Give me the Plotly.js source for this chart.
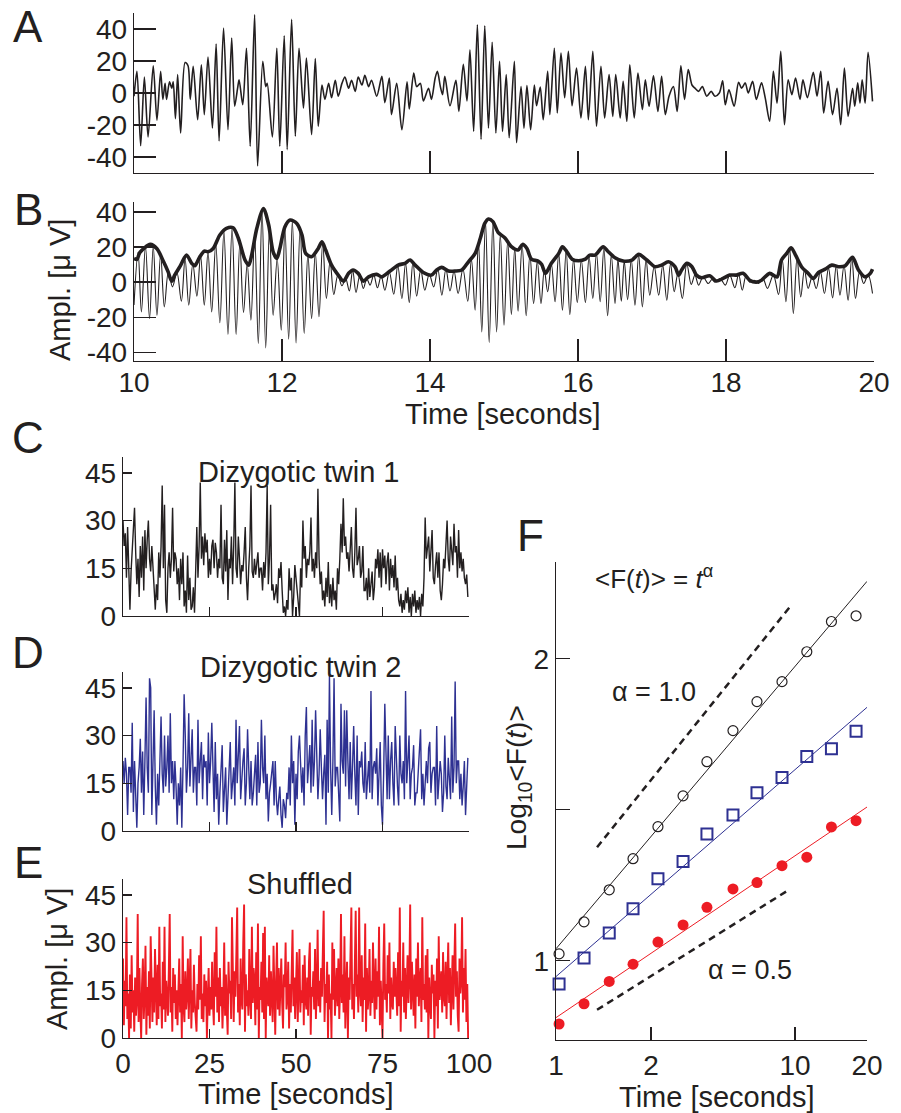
<!DOCTYPE html>
<html><head><meta charset="utf-8">
<script src="https://cdn.plot.ly/plotly-3.0.1.min.js"></script>
<style>html,body{margin:0;padding:0;background:#fff}#chart{width:901px;height:1113px}</style>
</head><body><div id="chart"></div>
<script>
// ---------- Panel A: raw EEG (extrema) ----------
const aT=[10.00,10.04,10.09,10.14,10.19,10.26,10.31,10.36,10.39,10.42,10.44,10.48,10.51,10.53,10.56,10.59,10.63,10.69,10.73,10.76,10.80,10.86,10.91,10.95,11.00,11.06,11.11,11.15,11.21,11.27,11.32,11.36,11.40,11.42,11.47,11.52,11.57,11.63,11.67,11.74,11.78,11.80,11.87,11.93,11.97,12.03,12.07,12.13,12.18,12.23,12.29,12.33,12.40,12.45,12.49,12.54,12.58,12.63,12.67,12.72,12.76,12.81,12.85,12.90,12.94,12.99,13.03,13.08,13.12,13.17,13.21,
13.28,13.35,13.39,13.45,13.48,13.55,13.62,13.69,13.72,13.78,13.82,13.87,13.91,13.98,14.02,14.07,14.10,14.14,14.17,14.20,14.27,14.35,14.39,14.45,14.50,14.54,14.59,14.64,14.69,14.74,14.79,14.84,14.89,14.94,14.98,15.03,15.07,15.14,15.17,15.23,15.27,15.31,15.36,15.41,15.44,15.49,15.53,15.59,15.62,15.68,15.72,15.77,15.82,15.87,15.92,15.98,16.04,16.10,16.14,16.20,16.25,16.31,16.36,16.42,16.47,16.51,16.57,16.61,16.66,
16.70,16.76,16.81,16.87,16.91,16.96,17.02,17.08,17.13,17.18,17.23,17.29,17.34,17.39,17.44,17.49,17.54,17.58,17.63,17.68,17.74,17.80,17.85,17.91,17.955,17.99,18.04,18.11,18.17,18.21,18.26,18.30,18.36,18.41,18.48,18.53,18.59,18.64,18.69,18.74,18.79,18.84,18.89,18.94,19.00,19.04,19.10,19.18,19.23,19.28,19.32,19.38,19.44,19.50,19.55,19.60,19.65,19.71,19.74,19.78,19.81,19.84,19.88,19.92,19.98];
const aV=[-2,13.5,-33,10,-27.5,17,-17,13.5,-4,6,-4,7,3,7,-16,11.5,-25,19,17,-4,16.7,-16.7,17.7,-13.5,22.5,-21.9,30.6,-30,40.6,-22.9,34.4,-8.3,3,8.3,-7.3,28,-33.3,49,-45.6,19.8,4,6,-27.5,28,-33.3,35.8,-35.4,46,-27,28,-9.4,21.9,-26,21.5,-20.8,5,-4,6,-3,8,-2,6,10,3,8,1,10,5,11,4,8,
-2,10.4,-6,9.4,-13.5,6,-23,7,-10,12.5,4,6,-5,3,-4,9.4,13.5,4,-1,10.4,-8,8,-11.5,18,-5,27,-24,42.7,-29,42,-22,31.7,-25,19.8,-24,11.5,-28,19.8,-31,4,-22,4.6,-23,5,-8,3.75,-16.7,13.5,-13.5,28,-12.5,25,-3,26,-8,15.6,-15.6,16.7,-16.7,26,-20.8,16.7,-15.6,11.5,-14.6,11.5,-15.6,7.3,-17.7,
17.7,-15.6,12.5,-10.4,8.3,-8.3,10.8,-11.5,10.4,-13.5,-2,4,-11.5,17,-4,14.6,5,3,1,4,-2,1,-2,0,7.7,-7.3,2,-8.3,6.7,3,6.3,0,7.3,-4,6.3,-3,-17.7,13.5,-6.3,26,-19.8,8.3,-1,9.4,-4,8.3,-3,12.9,-2,13.5,-12.5,7.3,-13.5,3,-19.8,15.6,-14.6,3,-8.3,6.3,-6.3,8.3,-6.3,25.4,-5.2];

// ---------- Panel B: alpha-band signal (extrema) and its envelope ----------
const bT=[10.00,10.055,10.10,10.155,10.21,10.26,10.31,10.36,10.41,10.465,10.52,10.58,10.64,10.69,10.74,10.795,10.85,10.90,10.95,11.00,11.05,11.105,11.16,11.215,11.27,11.325,11.38,11.43,11.48,11.53,11.58,11.63,11.68,11.73,11.78,11.83,11.88,11.935,11.99,12.04,12.09,12.14,12.19,12.245,12.30,12.35,12.40,12.45,12.50,12.55,12.60,12.65,12.70,12.755,12.81,12.86,12.91,12.955,13.00,13.05,13.10,13.145,13.19,13.24,13.29,13.34,13.39,13.45,13.51,13.565,13.62,13.67,13.72,13.77,13.82,13.875,13.93,13.99,14.05,14.105,14.16,14.215,14.27,14.325,14.38,14.445,14.51,14.56,14.61,14.655,14.70,14.75,14.80,14.85,14.90,14.95,15.00,15.05,15.10,15.145,15.19,15.245,15.30,15.35,15.40,15.45,15.50,15.545,15.59,15.64,15.69,15.74,15.79,15.84,15.89,15.94,15.99,16.045,16.10,16.15,16.20,16.25,16.30,16.35,16.40,16.45,16.50,16.54,16.585,16.625,16.67,16.72,16.77,16.82,16.87,16.92,16.97,17.03,17.09,17.145,17.20,17.25,17.30,17.35,17.41,17.47,17.53,17.58,17.63,17.69,17.76,17.81,17.85,17.92,17.99,18.05,18.12,18.17,18.22,18.27,18.32,18.38,18.44,18.50,18.56,18.64,18.71,18.76,18.81,18.86,18.91,18.96,19.01,19.06,19.11,19.165,19.22,19.275,19.33,19.385,19.44,19.49,19.54,19.595,19.65,19.70,19.75,19.805,19.86,19.92,19.98];
const bV=[-13,17,-17,20.5,-20.8,20.5,-18.9,16,-14.1,6,-2.7,5.5,-10.9,13.5,-13.1,10.5,-8,15,-13.1,17.3,-17,22,-23.2,29,-29.9,31,-29.9,22,-17.3,10.5,-21.7,27,-35,41,-37.5,30,-18.9,13.5,-27.4,31,-32.6,35,-34.7,31,-29.3,16,-20.8,17,-19.8,22.5,-9.3,12,-7,4,-2.1,2,-5,6.8,-5.9,3.5,-3.6,2,-1.7,4,-3.2,3.5,-4.6,5.8,-6.9,9.5,-9.3,10.8,-11.6,11.5,-8,7,-4.6,4.5,-2.7,7.5,-7.4,7.5,-5.1,6.3,-6.5,7.5,-10.9,13,-16,23,-28.4,34.5,-34.5,34.5,-28.4,27,-24.6,23.5,-18.5,19.5,-16.6,21,-19.2,16,-12.2,12,-12.2,7,-5.5,10.5,-11.2,16.4,-16,18,-18.5,13,-11.6,12.5,-11.6,14.5,-9.3,16.5,-11.2,19.5,-19.2,15.5,-12.2,12.8,-10.9,12,-10,12.8,-13.1,15.5,-14.1,12.8,-7.4,9,-7.4,9.7,-10.3,10.5,-5.5,5,-9.3,10.5,-1.3,4,-1.7,3,-0.8,1.5,0,2,-1.7,4,-3.2,4.5,-4.6,3.5,0,1,-0.8,2,-3.6,4,-7,13,-11.2,19.5,-17.9,14,-8.4,7,-3.6,3,-3.6,6,-6.5,8,-9,9.5,-7.4,9.5,-10.3,14,-9.3,6,-0.8,4,-6.5];
const eT=[10.00,10.04,10.08,10.22,10.31,10.40,10.46,10.51,10.55,10.62,10.71,10.78,10.82,10.89,10.95,11.00,11.07,11.16,11.25,11.34,11.41,11.50,11.55,11.59,11.66,11.75,11.82,11.88,11.93,11.97,12.04,12.11,12.20,12.27,12.32,12.40,12.49,12.54,12.59,12.67,12.76,12.83,12.90,12.96,13.03,13.10,13.17,
13.28,13.35,13.46,13.57,13.66,13.73,13.80,13.91,14.02,14.09,14.16,14.25,14.34,14.43,14.52,14.61,14.68,14.74,14.79,14.85,14.92,15.01,15.10,15.19,15.25,15.31,15.37,15.46,15.51,15.56,15.64,15.74,15.79,15.85,15.92,16.01,16.10,16.16,16.23,16.34,16.41,16.50,16.61,
16.73,16.82,16.93,17.04,17.13,17.22,17.31,17.36,17.40,17.47,17.54,17.60,17.67,17.78,17.87,17.96,18.05,18.14,18.23,18.32,18.41,18.48,18.59,18.69,18.75,18.82,18.88,18.94,19.02,19.11,19.18,19.25,19.34,19.43,19.52,19.61,19.71,19.79,19.88,19.95,19.98];
const eV=[13.5,13,17,21.5,19,11.6,6,0.5,4,8.8,15.4,10.7,9.3,14.5,17.7,17.3,19.2,26.9,30.7,31,25,12.6,9.7,15.4,30.7,42,32.6,17.3,13.5,19,31.6,35.4,33.5,26.9,16.4,14.5,19.2,23,18.3,9.7,4,0.5,5,6.9,5,0.5,3,
4.4,3,6.3,9.7,10.7,12.6,9.7,5.5,4,6.9,8.4,6.3,6.3,6.9,11.6,16.4,25,33.5,36,34.5,28.4,25.3,20.2,18.3,21.5,19.2,13.1,12,10,5,10.7,16.4,20.2,17.3,13.1,12.2,13.1,15.4,15.4,20.2,17.3,13.9,12,
12.6,15.8,12.6,8.8,9.7,11.6,8.8,4,6.9,10.7,8.8,4,2.5,3.6,0.6,2.1,4,4,5,1.1,0,1.1,5,3,12.6,16.4,19.6,15.4,8.8,5,2.1,5.5,7.4,9.7,8.8,9.3,14.1,6.9,3,5,7.4];

// ---------- Panels C, D, E: amplitude envelopes over 100 s ----------
const twin1=[30,22,26,12,28,18,2,14,22,30,34,20,10,18,6,22,12,25,8,27,15,24,30,18,14,22,16,8,2,10,
5,20,12,22,41,15,35,5,1,15,20,12,18,34,14,20,18,10,15,5,18,10,20,3,8,1,19,5,12,2,
3,9,1,14,28,12,22,42,18,25,16,26,20,24,12,18,13,22,24,15,23,20,12,18,15,35,12,10,24,14,
27,5,18,15,25,10,22,42,15,12,25,18,10,16,14,20,28,12,5,15,22,41,14,12,18,13,16,20,12,15,
15,8,17,12,20,41,10,18,35,8,10,5,7,10,4,15,12,17,8,1,3,0,5,2,15,8,12,0,6,16,
12,8,2,0,15,9,30,18,22,12,18,16,20,31,14,18,12,20,15,40,18,10,14,5,8,3,12,6,17,4,
10,3,12,5,8,2,15,10,18,29,20,37,22,25,18,20,14,24,28,15,12,20,34,16,18,22,12,14,22,8,
8,12,5,15,6,10,14,5,9,18,15,21,12,20,9,21,15,19,10,17,20,8,18,12,16,9,19,8,12,5,
3,7,1,5,2,8,4,9,1,6,0,7,3,8,1,5,2,6,0,7,3,12,31,18,22,25,14,20,27,12,
10,16,20,12,20,8,5,10,18,15,22,30,18,14,25,20,16,29,20,22,12,27,15,20,14,18,12,10,13,6];
const twin2=[22,15,23,18,5,20,20,12,34,6,22,14,1,15,20,29,12,25,5,22,42,20,12,48,45,5,20,38,14,2,
18,8,22,36,18,12,30,14,20,30,12,37,15,22,10,22,14,2,15,8,20,1,20,43,30,12,20,37,14,25,
32,12,20,20,8,35,15,22,28,10,24,20,22,8,31,15,22,34,15,6,28,10,18,2,12,20,27,6,14,20,
2,12,18,28,10,15,20,8,35,15,24,33,10,18,22,26,8,15,32,20,10,22,8,12,18,24,8,28,12,15,
35,20,15,30,10,18,3,12,15,18,22,8,22,10,5,10,14,5,1,10,8,4,12,10,20,8,30,15,22,2,
18,10,25,30,18,12,20,8,30,39,15,22,27,12,35,14,22,38,25,10,18,32,20,10,18,24,2,35,12,49,
20,5,22,48,14,20,20,10,3,40,22,18,38,14,38,22,10,28,10,20,33,18,8,30,5,22,20,25,15,12,
28,10,15,22,12,44,10,20,22,18,26,8,18,28,8,2,18,40,25,10,30,10,22,28,15,8,33,22,14,8,
30,18,15,22,10,44,15,22,30,10,18,20,27,8,12,12,20,25,32,10,18,8,14,22,15,26,28,12,18,20,
20,8,33,10,16,22,18,6,12,30,14,10,23,16,10,36,12,20,47,15,22,22,10,18,8,14,22,5,18,23];
const shuffled=[25,4,18,10,38,6,14,0,20,3,26,8,15,2,19,7,12,39,5,22,9,0,17,25,6,14,29,1,16,7,21,3,32,11,5,19,8,28,12,4,
23,6,35,10,14,3,24,9,35,5,18,12,7,22,39,8,16,2,22,11,20,6,15,4,13,25,8,17,0,32,10,5,21,9,14,25,6,18,28,3,
15,8,23,11,4,2,17,9,26,12,32,6,14,5,20,10,18,0,12,22,7,16,9,24,11,4,27,13,35,8,19,5,22,10,16,3,13,30,7,20,
9,1,24,14,18,6,38,11,5,21,13,26,41,8,17,4,25,12,9,30,42,2,20,10,15,7,28,13,6,35,11,22,18,4,27,9,36,0,16,12,
24,8,33,6,35,0,19,14,10,26,7,21,15,5,29,12,1,18,30,9,22,7,14,25,11,3,20,16,30,9,13,24,3,17,8,22,34,10,19,6,
14,27,5,20,28,8,15,11,23,4,26,12,9,19,7,24,30,1,16,13,21,9,28,6,15,34,10,18,8,22,13,27,40,5,17,11,24,0,20,9,
14,0,30,12,28,7,18,22,10,25,6,16,39,11,20,8,32,3,15,24,0,19,12,27,41,9,17,6,23,40,13,20,8,41,15,10,26,5,19,12,
36,2,22,9,14,28,7,18,11,30,16,6,25,9,21,13,35,4,18,10,0,23,36,12,17,8,26,14,30,6,19,11,9,24,13,22,15,7,27,10,
41,2,18,13,30,8,22,6,16,26,11,19,42,9,24,14,7,20,3,25,13,30,10,18,22,5,38,12,17,9,26,8,28,0,19,11,6,23,14,20,
0,18,10,25,3,32,12,16,21,8,27,13,10,24,6,19,30,11,22,4,17,26,9,20,36,13,21,7,2,25,14,18,38,8,22,12,28,5,17,0];

// ---------- Panel F: fluctuation function (log10 <F(t)>) ----------
const fTime=[1.03,1.31,1.67,2.10,2.67,3.40,4.28,5.50,6.93,8.82,11.2,14.2,18.0];
const fTwin1=[1.023,1.129,1.235,1.338,1.444,1.546,1.659,1.762,1.858,1.924,2.023,2.123,2.142];
const fTwin2=[0.923,1.009,1.092,1.172,1.272,1.329,1.420,1.483,1.556,1.607,1.676,1.702,1.760];
const fShuf=[0.791,0.858,0.932,0.989,1.062,1.119,1.177,1.238,1.259,1.315,1.343,1.443,1.464];
const fitTime=[1,20];
const fitTwin1=[1.04,2.256];
const fitTwin2=[0.948,1.839];
const fitShuf=[0.812,1.509];
const refTime1=[1.485,9.53], refAlpha1=[1.376,2.172];
const refTime2=[1.485,9.17], refAlpha2=[0.838,1.229];

const xTicksAB=[10,12,14,16,18,20];
const yTicksA=[-40,-20,0,20,40];
const yTickTextA=['-40','-20','0','20','40'];
const yTicksCDE=[0,15,30,45];
const xTicksCDE=[0,25,50,75,100];

// ---------- build ----------
const W=901,H=1113;
const FONT='"Liberation Sans", Arial, Helvetica, sans-serif';
const INK='#231f20', BLUE='#2e3192', RED='#ed1c24';
const dxp=(a,b)=>[a/W,b/W];
const dyp=(top,bot)=>[1-bot/H,1-top/H];
const grid=(n,dt)=>Array.from({length:n},(_,i)=>i*dt);

const base={showgrid:false,zeroline:false,showline:true,linecolor:INK,linewidth:1.3,
  ticks:'inside',tickcolor:INK,tickwidth:1.3,tickfont:{family:FONT,size:28,color:INK},fixedrange:true};

const data=[
 {x:aT,y:aV,xaxis:'x',yaxis:'y',mode:'lines',line:{color:INK,width:1.6,shape:'spline',smoothing:0.8}},
 {x:bT,y:bV,xaxis:'x2',yaxis:'y2',mode:'lines',line:{color:INK,width:1.1,shape:'spline',smoothing:1}},
 {x:eT,y:eV,xaxis:'x2',yaxis:'y2',mode:'lines',line:{color:INK,width:3.6,shape:'spline',smoothing:0.8}},
 {x:grid(twin1.length,1/3),y:twin1,xaxis:'x3',yaxis:'y3',mode:'lines',line:{color:INK,width:1.4}},
 {x:grid(twin2.length,1/3),y:twin2,xaxis:'x4',yaxis:'y4',mode:'lines',line:{color:BLUE,width:1.4}},
 {x:grid(shuffled.length,0.25),y:shuffled,xaxis:'x5',yaxis:'y5',mode:'lines',line:{color:RED,width:1.9}},
 {x:refTime1,y:refAlpha1,xaxis:'x6',yaxis:'y6',mode:'lines',line:{color:INK,width:2.5,dash:'7px,5px'}},
 {x:refTime2,y:refAlpha2,xaxis:'x6',yaxis:'y6',mode:'lines',line:{color:INK,width:2.5,dash:'7px,5px'}},
 {x:fitTime,y:fitTwin1,xaxis:'x6',yaxis:'y6',mode:'lines',line:{color:INK,width:1}},
 {x:fitTime,y:fitTwin2,xaxis:'x6',yaxis:'y6',mode:'lines',line:{color:BLUE,width:1}},
 {x:fitTime,y:fitShuf,xaxis:'x6',yaxis:'y6',mode:'lines',line:{color:RED,width:1}},
 {x:fTime,y:fTwin1,xaxis:'x6',yaxis:'y6',mode:'markers',cliponaxis:false,marker:{symbol:'circle-open',size:10,color:INK,line:{width:1.2,color:INK}}},
 {x:fTime,y:fTwin2,xaxis:'x6',yaxis:'y6',mode:'markers',cliponaxis:false,marker:{symbol:'square-open',size:11,color:BLUE,line:{width:2,color:BLUE}}},
 {x:fTime,y:fShuf,xaxis:'x6',yaxis:'y6',mode:'markers',cliponaxis:false,marker:{symbol:'circle',size:11,color:RED}}
];

function ann(text,x,y,size,extra){
  return Object.assign({text:text,x:x/W,y:1-y/H,xref:'paper',yref:'paper',showarrow:false,
    xanchor:'center',yanchor:'middle',font:{family:FONT,size:size,color:INK}},extra||{});
}

const layout={
  width:W,height:H,margin:{l:0,r:0,t:0,b:0},paper_bgcolor:'#fff',plot_bgcolor:'rgba(0,0,0,0)',
  showlegend:false,font:{family:FONT,color:INK},
  xaxis:Object.assign({},base,{domain:dxp(134,874),range:[10,20],tickvals:xTicksAB,ticklen:22,showticklabels:false,anchor:'y'}),
  yaxis:Object.assign({},base,{domain:dyp(13,173),range:[-50,50],tickvals:yTicksA,ticktext:yTickTextA,ticklen:22,anchor:'x'}),
  xaxis2:Object.assign({},base,{domain:dxp(134,874),range:[10,20],tickvals:xTicksAB,ticktext:xTicksAB.map(String),ticklen:22,ticklabelstandoff:-4,anchor:'y2'}),
  yaxis2:Object.assign({},base,{domain:dyp(202,361),range:[-45,45.7],tickvals:yTicksA,ticktext:yTickTextA,ticklen:22,anchor:'x2'}),
  xaxis3:Object.assign({},base,{domain:dxp(123,469),range:[0,100],tickvals:xTicksCDE,ticklen:9,showticklabels:false,anchor:'y3'}),
  yaxis3:Object.assign({},base,{domain:dyp(457,616),range:[0,50],tickvals:yTicksCDE,ticklen:9,anchor:'x3'}),
  xaxis4:Object.assign({},base,{domain:dxp(123,469),range:[0,100],tickvals:xTicksCDE,ticklen:9,showticklabels:false,anchor:'y4'}),
  yaxis4:Object.assign({},base,{domain:dyp(672,831),range:[0,50],tickvals:yTicksCDE,ticklen:9,anchor:'x4'}),
  xaxis5:Object.assign({},base,{domain:dxp(123,469),range:[0,100],tickvals:xTicksCDE,ticklen:9,anchor:'y5'}),
  yaxis5:Object.assign({},base,{domain:dyp(879,1038),range:[0,50],tickvals:yTicksCDE,ticklen:9,anchor:'x5'}),
  xaxis6:Object.assign({},base,{domain:dxp(556,867),type:'log',range:[0,Math.log10(20)],tickvals:[1,2.5,10,20],ticktext:['1','2','10','20'],ticklen:13,anchor:'y6'}),
  yaxis6:Object.assign({},base,{domain:dyp(562,1040),range:[0.738,2.32],tickvals:[1,2],ticktext:['1','2'],ticklen:14,anchor:'x6',
    minor:{tickvals:[1.5],ticks:'inside',ticklen:14,tickwidth:1.3,tickcolor:INK,showgrid:false}}),
  annotations:[
    ann('A',28,27,44),ann('B',28,209,44),ann('C',28,437,44),ann('D',28,652,44),ann('E',28,862,44),ann('F',530,535,44),
    ann('Time [seconds]',503,414,29),ann('Time [seconds]',296,1094,29),ann('Time [seconds]',717,1097,29),
    ann('Ampl. [μ V]',60,290,29,{textangle:-90}),ann('Ampl. [μ V]',57,959,29,{textangle:-90}),
    ann('Log<sub>10</sub>&lt;F(<i>t</i>)&gt;',518,778,28,{textangle:-90}),
    ann('Dizygotic twin 1',298,472,29),ann('Dizygotic twin 2',300,667,29),ann('Shuffled',300,884,29),
    ann('&lt;F(<i>t</i>)&gt; = <i>t</i><sup>α</sup>',593,578,26,{xanchor:'left'}),
    ann('α = 1.0',654,692,27),ann('α = 0.5',750,970,27)
  ]
};
Plotly.newPlot('chart',data,layout,{displayModeBar:false,staticPlot:true});
</script>
</body></html>
